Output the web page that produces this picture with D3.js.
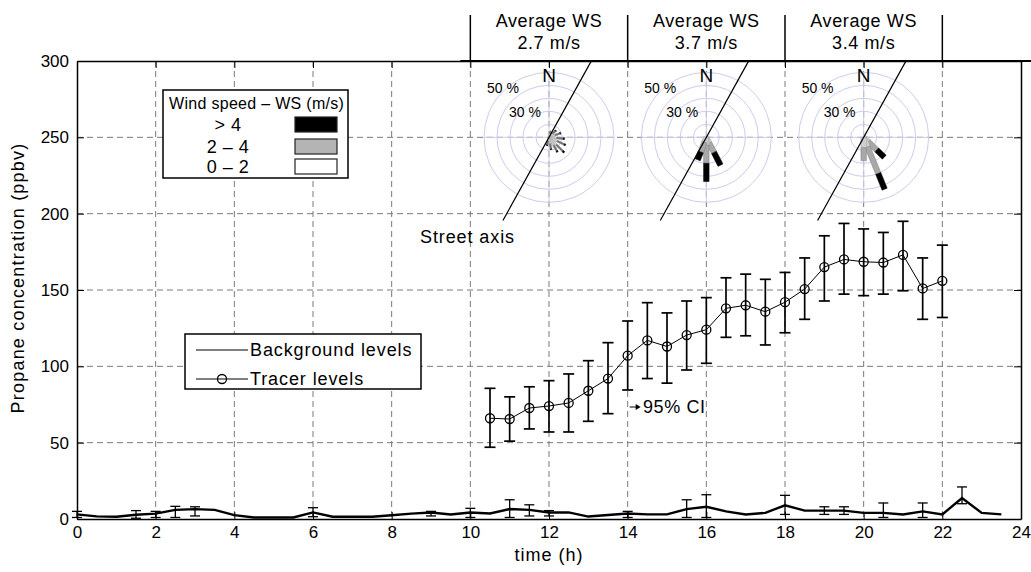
<!DOCTYPE html>
<html><head><meta charset="utf-8">
<script src="https://cdn.jsdelivr.net/npm/d3@7/dist/d3.min.js"></script>
<style>
body{margin:0;background:#fff}
svg{display:block}
text{font-family:"Liberation Sans",Arial,sans-serif;fill:#000}
</style>
</head><body>
<svg id="chart" width="1031" height="572"></svg>
<script>
// ---------- data ----------
const xTickValues = [0,2,4,6,8,10,12,14,16,18,20,22,24];
const yTickValues = [0,50,100,150,200,250,300];

const tracerTime = [10.5,11,11.5,12,12.5,13,13.5,14,14.5,15,15.5,16,16.5,17,17.5,18,18.5,19,19.5,20,20.5,21,21.5,22];
const tracerMean = [66,65.5,72.7,74,76,84,92,107,117,113,120.5,124,138,140,135.8,142,150.6,165,170,168.5,168,173,151,156];
const tracerLow  = [47,51,59,57,57,64,69,84.5,92,89,97.6,102,119,120,114,122,130.8,142.8,147.3,146.3,147.3,149.5,130.8,132];
const tracerHigh = [85.6,80,86.6,90.6,95,103.7,115.5,129.7,141.7,135,142.8,145,158,160.4,157,161.5,171,185.5,193.6,190,187.7,195,171,179.4];

const bgTime = [0,0.5,1,1.5,2,2.5,3,3.5,4,4.5,5,5.5,6,6.5,7,7.5,8,8.5,9,9.5,10,10.5,11,11.5,12,12.5,13,13.5,14,14.5,15,15.5,16,16.5,17,17.5,18,18.5,19,19.5,20,20.5,21,21.5,22,22.5,23,23.5];
const bgMean = [3,1.7,1.5,2.8,3.5,6,6.5,6,2.5,1,1,1,4.3,1.5,1.5,1.5,2.5,3.5,4.3,3,4.3,3.6,6.5,6,4.3,4.3,1.6,2.6,3.6,3,3,6.5,8,5,3,4,9,5.5,5.5,5.5,4,4,3,5,3,13.7,4,3];
const bgLow  = [1,null,null,0.5,1,1,2,null,null,null,null,null,1.5,null,null,null,null,null,2,null,1,null,1,2,2,null,null,null,1,null,null,1,1,null,null,null,3,null,3,3,null,1,null,1,null,10,null,null];
const bgHigh = [5,null,null,5.5,5,8.3,8,null,null,null,null,null,7.4,null,null,null,null,null,5,null,7,null,12.6,9.3,5.5,null,null,null,5,null,null,12.6,15.9,null,null,null,15.5,null,8,8,null,10.5,null,10.5,null,21,null,null];

// wind roses
const roseHour = [12,16,20];
const roseAvgWS = ["2.7 m/s","3.7 m/s","3.4 m/s"];
const roseRings = [10,20,30,40,50];
const roseRingLabels = ["50 %","30 %"];
const streetAxisDeg = 29;
// per rose: direction (deg from N, clockwise), % for 0-2, 2-4, >4 m/s
const rose1Dir  = [15,45,70,95,115,135,150,170,195];
const rose1Low  = [3,4,5,6,7,8,7,5,3];
const rose1Mid  = [2,3,4,5,6,7,5,4,3];
const rose1High = [0,0.5,0.5,1,1,1.5,1,0.5,0.5];
const rose2Dir  = [153,180,201];
const rose2Low  = [5,6,4];
const rose2Mid  = [8,14,8];
const rose2High = [11,14,6.5];
const rose3Dir  = [134,158,180];
const rose3Low  = [5,8,8];
const rose3Mid  = [9,22,10];
const rose3High = [8,13,0];

const speedClasses = ["> 4","2 – 4","0 – 2"];
const speedColors = ["#000000","#b4b4b4","#ffffff"];
const legendSeries = ["Background levels","Tracer levels"];

// ---------- layout ----------
const svg = d3.select("#chart");
const L = 77, R = 1021, T = 61, B = 519;
const x = d3.scaleLinear().domain([0,24]).range([L,R]);
const y = d3.scaleLinear().domain([0,300]).range([B,T]);
const r = d3.scaleLinear().domain([0,50]).range([0,65]);

// grid
const grid = svg.append("g").attr("stroke","#7a7a7a").attr("stroke-dasharray","6,4").attr("stroke-width",1);
xTickValues.slice(1,-1).forEach(v=>grid.append("line").attr("x1",x(v)).attr("x2",x(v)).attr("y1",T).attr("y2",B));
yTickValues.slice(1,-1).forEach(v=>grid.append("line").attr("y1",y(v)).attr("y2",y(v)).attr("x1",L).attr("x2",R));

// wind roses
const roses = [
  {dir:rose1Dir,low:rose1Low,mid:rose1Mid,high:rose1High,w:1.8,midFill:"#707070"},
  {dir:rose2Dir,low:rose2Low,mid:rose2Mid,high:rose2High,w:5.5,midFill:"#a8a8a8"},
  {dir:rose3Dir,low:rose3Low,mid:rose3Mid,high:rose3High,w:5.5,midFill:"#a8a8a8"}
];
roseHour.forEach((h,i)=>{
  const cx = x(h), cy = y(250);
  const g = svg.append("g");
  roseRings.forEach(p=>g.append("circle").attr("cx",cx).attr("cy",cy).attr("r",r(p))
     .attr("fill","none").attr("stroke","#cdcdec").attr("stroke-width",1));
  g.append("line").attr("x1",cx-r(50)).attr("x2",cx+r(50)).attr("y1",cy).attr("y2",cy).attr("stroke","#cdcdec");
  g.append("line").attr("x1",cx).attr("x2",cx).attr("y1",cy-r(50)).attr("y2",cy+r(50)).attr("stroke","#cdcdec");
  g.append("text").attr("x",cx).attr("y",cy-r(50)+10).attr("text-anchor","middle").attr("font-size",19).text("N");
  g.append("text").attr("x",cx-62).attr("y",cy-44).attr("font-size",14).text(roseRingLabels[0]);
  g.append("text").attr("x",cx-40).attr("y",cy-20).attr("font-size",14).text(roseRingLabels[1]);
  // bars
  const rs = roses[i];
  rs.dir.forEach((d,j)=>{
    const th = d*Math.PI/180, ux = Math.sin(th), uy = -Math.cos(th), px = -uy, py = ux;
    const segs = [[0,rs.low[j],"#cfcfcf","#a0a0a0"],[rs.low[j],rs.low[j]+rs.mid[j],rs.midFill,"#808080"],
                  [rs.low[j]+rs.mid[j],rs.low[j]+rs.mid[j]+rs.high[j],"#000","#000"]];
    segs.forEach(([a,b,f,s])=>{
      if(b<=a) return;
      const ra=r(a), rb=r(b), hw=rs.w/2;
      const pts=[[cx+ux*ra+px*hw,cy+uy*ra+py*hw],[cx+ux*rb+px*hw,cy+uy*rb+py*hw],
                 [cx+ux*rb-px*hw,cy+uy*rb-py*hw],[cx+ux*ra-px*hw,cy+uy*ra-py*hw]];
      g.append("polygon").attr("points",pts.map(p=>p.join(",")).join(" "))
        .attr("fill",f).attr("stroke",s).attr("stroke-width",0.5);
    });
  });
  // street axis
  const sa = streetAxisDeg*Math.PI/180;
  g.append("line").attr("x1",cx+Math.sin(sa)*88).attr("y1",cy-Math.cos(sa)*88)
    .attr("x2",cx-Math.sin(sa)*95).attr("y2",cy+Math.cos(sa)*95).attr("stroke","#000").attr("stroke-width",1.2);
  // header
  svg.append("text").attr("x",cx).attr("y",27).attr("text-anchor","middle").attr("font-size",18).attr("letter-spacing",0.6).text("Average WS");
  svg.append("text").attr("x",cx).attr("y",49).attr("text-anchor","middle").attr("font-size",18).attr("letter-spacing",0.6).text(roseAvgWS[i]);
});
[10,14,18,22].forEach(v=>svg.append("line").attr("x1",x(v)).attr("x2",x(v)).attr("y1",15).attr("y2",T)
  .attr("stroke","#000").attr("stroke-width",1.5));
svg.append("line").attr("x1",x(10)-10).attr("x2",1031).attr("y1",T).attr("y2",T).attr("stroke","#000").attr("stroke-width",2);
svg.append("text").attr("x",420).attr("y",243).attr("font-size",18).attr("letter-spacing",0.9).text("Street axis");

// background levels
const bgData = bgTime.map((t,i)=>({t,m:bgMean[i],lo:bgLow[i],hi:bgHigh[i]}));
svg.append("path").datum(bgData).attr("fill","none").attr("stroke","#000").attr("stroke-width",2.4)
  .attr("d",d3.line().x(d=>x(d.t)).y(d=>y(d.m)));
const bgEb = svg.append("g").attr("stroke","#000").attr("stroke-width",1.3);
bgData.filter(d=>d.hi!==null).forEach(d=>{
  bgEb.append("line").attr("x1",x(d.t)).attr("x2",x(d.t)).attr("y1",y(d.lo)).attr("y2",y(d.hi));
  bgEb.append("line").attr("x1",x(d.t)-5).attr("x2",x(d.t)+5).attr("y1",y(d.hi)).attr("y2",y(d.hi));
  bgEb.append("line").attr("x1",x(d.t)-5).attr("x2",x(d.t)+5).attr("y1",y(d.lo)).attr("y2",y(d.lo));
});

// tracer levels
const trData = tracerTime.map((t,i)=>({t,m:tracerMean[i],lo:tracerLow[i],hi:tracerHigh[i]}));
const eb = svg.append("g").attr("stroke","#000").attr("stroke-width",1.7);
trData.forEach(d=>{
  eb.append("line").attr("x1",x(d.t)).attr("x2",x(d.t)).attr("y1",y(d.lo)).attr("y2",y(d.hi));
  eb.append("line").attr("x1",x(d.t)-5.5).attr("x2",x(d.t)+5.5).attr("y1",y(d.hi)).attr("y2",y(d.hi));
  eb.append("line").attr("x1",x(d.t)-5.5).attr("x2",x(d.t)+5.5).attr("y1",y(d.lo)).attr("y2",y(d.lo));
});
svg.append("path").datum(trData).attr("fill","none").attr("stroke","#000").attr("stroke-width",1)
  .attr("d",d3.line().x(d=>x(d.t)).y(d=>y(d.m)));
svg.append("g").selectAll("circle").data(trData).join("circle")
  .attr("cx",d=>x(d.t)).attr("cy",d=>y(d.m)).attr("r",4.5)
  .attr("fill","none").attr("stroke","#000").attr("stroke-width",1.3);

// 95% CI annotation
svg.append("line").attr("x1",x(14)+2).attr("x2",x(14)+11).attr("y1",407).attr("y2",407).attr("stroke","#000");
svg.append("path").attr("d",`M${x(14)+13},407 l-5,-3 l0,6 z`).attr("fill","#000");
svg.append("text").attr("x",643).attr("y",413).attr("font-size",18).attr("letter-spacing",0.6).text("95% CI");

// axes
const fmt = d3.format("d");
svg.append("g").attr("transform",`translate(0,${B})`)
  .call(d3.axisBottom(x).tickValues(xTickValues).tickFormat(fmt).tickSizeInner(-7).tickSizeOuter(0).tickPadding(7))
  .call(g=>g.selectAll("text").attr("font-size",17).attr("font-family","Liberation Sans, Arial").attr("fill","#000"));
svg.append("g").attr("transform",`translate(${L},0)`)
  .call(d3.axisLeft(y).tickValues(yTickValues).tickFormat(fmt).tickSizeInner(-7).tickSizeOuter(0).tickPadding(8))
  .call(g=>g.selectAll("text").attr("font-size",17).attr("font-family","Liberation Sans, Arial").attr("fill","#000"));
svg.append("g").attr("transform",`translate(0,${T})`)
  .call(d3.axisTop(x).tickValues(xTickValues).tickFormat("").tickSizeInner(-7).tickSizeOuter(0));
svg.append("g").attr("transform",`translate(${R},0)`)
  .call(d3.axisRight(y).tickValues(yTickValues).tickFormat("").tickSizeInner(-7).tickSizeOuter(0));
svg.selectAll(".domain").attr("stroke","#000").attr("stroke-width",1.5);
svg.selectAll(".tick line").attr("stroke","#000");

svg.append("text").attr("transform","translate(24,278) rotate(-90)").attr("text-anchor","middle")
  .attr("font-size",18).attr("letter-spacing",1.2).text("Propane concentration (ppbv)");
svg.append("text").attr("x",x(12)).attr("y",561).attr("text-anchor","middle").attr("font-size",18).attr("letter-spacing",1).text("time (h)");

// wind speed legend
const lg = svg.append("g");
lg.append("rect").attr("x",163).attr("y",90).attr("width",185).attr("height",88).attr("fill","#fff").attr("stroke","#000").attr("stroke-width",1.5);
lg.append("text").attr("x",169).attr("y",109).attr("font-size",16).attr("letter-spacing",0.3).text("Wind speed – WS  (m/s)");
speedClasses.forEach((s,i)=>{
  const yy = [125,147,167][i];
  lg.append("text").attr("x",228).attr("y",yy+6).attr("text-anchor","middle").attr("font-size",18).attr("letter-spacing",0.5).text(s);
  lg.append("rect").attr("x",295).attr("y",yy-8).attr("width",42).attr("height",15)
    .attr("fill",speedColors[i]).attr("stroke","#222").attr("stroke-width",1.2);
});

// series legend
const lg2 = svg.append("g");
lg2.append("rect").attr("x",185).attr("y",334).attr("width",236).attr("height",55).attr("fill","#fff").attr("stroke","#000").attr("stroke-width",1.5);
legendSeries.forEach((s,i)=>{
  const yy = [350,379][i];
  lg2.append("line").attr("x1",196).attr("x2",248).attr("y1",yy).attr("y2",yy).attr("stroke","#000");
  if(i===1) lg2.append("circle").attr("cx",222).attr("cy",yy).attr("r",4.5).attr("fill","none").attr("stroke","#000").attr("stroke-width",1.3);
  lg2.append("text").attr("x",250).attr("y",yy+6).attr("font-size",18).attr("letter-spacing",0.9).text(s);
});
</script>
</body></html>
